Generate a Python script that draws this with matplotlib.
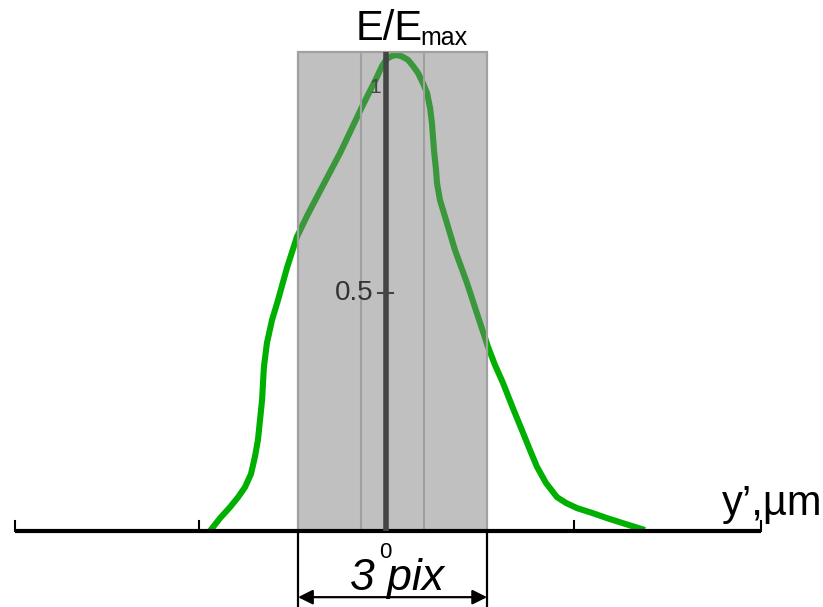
import matplotlib
matplotlib.use("Agg")
import matplotlib.pyplot as plt
from matplotlib.patches import Rectangle

plt.rcParams['font.family'] = ['Liberation Sans', 'DejaVu Sans']

# Field profile E/Emax across y' (µm)
y_um = [-0.939, -0.885, -0.832, -0.789, -0.752, -0.720, -0.699, -0.683, -0.672,
        -0.661, -0.656, -0.651, -0.635, -0.608, -0.576, -0.528, -0.475, -0.421,
        -0.368, -0.245, -0.128, -0.048, -0.021, 0.005, 0.032, 0.059, 0.085,
        0.117, 0.144, 0.171, 0.197, 0.219, 0.235, 0.245, 0.256, 0.267, 0.272,
        0.288, 0.315, 0.368, 0.432, 0.491, 0.544, 0.581, 0.624, 0.677, 0.731,
        0.768, 0.805, 0.853, 0.912, 0.960, 1.019, 1.099, 1.179, 1.275, 1.381]
e_rel = [0.0, 0.027, 0.050, 0.071, 0.092, 0.120, 0.156, 0.191, 0.233,
         0.275, 0.311, 0.345, 0.395, 0.443, 0.485, 0.553, 0.618, 0.662,
         0.702, 0.794, 0.891, 0.954, 0.977, 0.992, 0.998, 1.0, 0.997,
         0.990, 0.977, 0.962, 0.941, 0.920, 0.889, 0.857, 0.800, 0.758, 0.731,
         0.695, 0.660, 0.590, 0.521, 0.450, 0.387, 0.349, 0.311, 0.258, 0.206,
         0.170, 0.135, 0.101, 0.071, 0.059, 0.048, 0.038, 0.027, 0.015, 0.002]

# Detector pixels
pix_left = -0.469
pix_width = 0.336
n_pix = 3

x_ticks = [-1.98, -1, 1, 2]
y_tick_labels = ["0.5", "1"]

fig = plt.figure(figsize=(8.23, 6.07), dpi=100)
ax = fig.add_axes([0, 0, 1, 1])
ax.set_xlim(-386 / 187.5, (823 - 386) / 187.5)
ax.set_ylim(-76 / 476, 531 / 476)
ax.axis('off')

# profile curve
ax.plot(y_um, e_rel, color='#00b000', lw=4.4, solid_capstyle='butt',
        solid_joinstyle='round', zorder=2)

# pixel block (semi-transparent) with outlines
top = 1.006
ax.add_patch(Rectangle((pix_left, 0), pix_width * n_pix, top,
                       facecolor='#7c7c7c', alpha=0.48, edgecolor='none', zorder=3))
ax.add_patch(Rectangle((pix_left, 0), pix_width * n_pix, top,
                       facecolor='none', edgecolor='#a0a0a0', lw=1.6, zorder=4))
for k in range(1, n_pix):
    xb = pix_left + k * pix_width
    ax.plot([xb, xb], [0, top], color='#a0a0a0', lw=1.5, zorder=4)

# horizontal axis with ticks
ax.plot([x_ticks[0], x_ticks[-1]], [0, 0], color='black', lw=3.0, zorder=4.5,
        solid_capstyle='butt')
for t in x_ticks:
    ax.plot([t, t], [0, 0.022], color='black', lw=1.5, zorder=4.5)

# vertical axis
ax.plot([0, 0], [0, top], color='#444444', lw=4.0, zorder=5, solid_capstyle='butt')
ax.plot([-0.043, 0.037], [0.5, 0.5], color='#444444', lw=1.5, zorder=5)
ax.text(-0.069, 0.5, y_tick_labels[0], ha='right', va='center', fontsize=20,
        color='#333333', zorder=6)
ax.text(-0.059, 0.932, y_tick_labels[1], ha='center', va='center', fontsize=15,
        color='#444444', zorder=6)

# axis titles
ax.text(-0.16, 1.0315, "E/E", ha='left', va='baseline', fontsize=30, color='black')
ax.text(0.181, 1.021, "max", ha='left', va='baseline', fontsize=18, color='black')
ax.text(1.792, 0.034, "y\u2019,\u00b5m", ha='left', va='baseline', fontsize=30,
        color='black')
ax.text(-0.005, -0.0567, "0", ha='center', va='baseline', fontsize=16, color='black')

# dimension marker for pixel block
x_r = pix_left + pix_width * n_pix
for xd in (pix_left, x_r):
    ax.plot([xd, xd], [0, -0.16], color='black', lw=1.6, zorder=4)
ax.annotate("", xy=(x_r, -0.139), xytext=(pix_left, -0.139),
            arrowprops=dict(arrowstyle='<|-|>', color='black', lw=1.6,
                            mutation_scale=22, shrinkA=0, shrinkB=0))
ax.text(0.059, -0.124, f"{n_pix} pix", ha='center', va='baseline', fontsize=32,
        style='italic', color='black')

fig.savefig("out.png", dpi=100)
